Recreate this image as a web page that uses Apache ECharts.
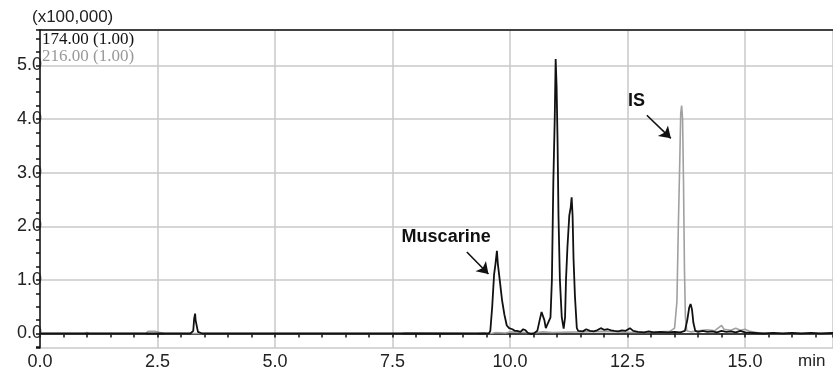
<!DOCTYPE html>
<html>
<head>
<meta charset="utf-8">
<script src="https://cdn.jsdelivr.net/npm/echarts@6/dist/echarts.min.js"></script>
<style>
  html, body { margin: 0; padding: 0; background: #fff; }
  #main { width: 833px; height: 371px; }
</style>
</head>
<body>
<div id="main"></div>
<script>
// trace 174.00 (black), time in min, intensity in x100,000
var blackTime = [0.0, 3.20, 3.26, 3.28, 3.30, 3.31, 3.33, 3.36, 3.40, 3.45, 5.00, 7.50, 9.00, 9.55, 9.58, 9.62, 9.66, 9.69, 9.71, 9.72, 9.74, 9.78, 9.83, 9.88, 9.93, 9.98,
    10.05, 10.10, 10.15, 10.22, 10.28, 10.33, 10.38, 10.45, 10.52, 10.58, 10.63, 10.67, 10.70, 10.73, 10.76, 10.80, 10.86, 10.89, 10.92, 10.95, 10.97, 10.99,
    11.01, 11.03, 11.06, 11.10, 11.14, 11.17, 11.19, 11.22, 11.26, 11.29, 11.31, 11.33, 11.35, 11.38, 11.42, 11.45, 11.55, 11.62, 11.70, 11.78, 11.85, 11.93,
    12.00, 12.08, 12.15, 12.22, 12.30, 12.38, 12.46, 12.55, 12.62, 12.72, 12.85, 12.95, 13.05, 13.20, 13.35, 13.50, 13.62, 13.72, 13.77, 13.81, 13.84, 13.87,
    13.90, 13.94, 14.00, 14.10, 14.20, 14.30, 14.40, 14.50, 14.60, 14.70, 14.80, 14.90, 15.00, 15.20, 15.40, 15.60, 15.80, 16.00, 16.20, 16.40, 16.60, 16.87];
var blackVal = [0.0, 0.0, 0.05, 0.28, 0.37, 0.25, 0.26, 0.03, 0.0, 0.0, 0.0, 0.0, 0.0, 0.0, 0.05, 0.5, 1.1, 1.3, 1.3, 1.54, 1.3, 1.0, 0.62, 0.35, 0.15, 0.1,
    0.08, 0.05, 0.05, 0.03, 0.08, 0.06, 0.01, -0.01, 0.01, 0.05, 0.25, 0.4, 0.42, 0.25, 0.1, 0.07, 0.3, 1.0, 2.8, 4.0, 5.12, 4.6,
    3.6, 2.2, 1.0, 0.3, 0.09, 0.3, 1.0, 1.6, 2.2, 2.35, 2.54, 2.2, 1.4, 0.7, 0.1, 0.05, 0.04, 0.08, 0.05, 0.04, 0.06, 0.1,
    0.07, 0.08, 0.06, 0.05, 0.04, 0.06, 0.05, 0.1, 0.05, 0.03, 0.02, 0.04, 0.02, 0.03, 0.02, 0.03, 0.02, 0.05, 0.25, 0.48, 0.55, 0.45,
    0.2, 0.05, 0.03, 0.05, 0.03, 0.04, 0.02, 0.05, 0.03, 0.04, 0.02, 0.05, 0.02, 0.01, 0.0, 0.01, 0.0, 0.01, 0.0, 0.01, 0.0, 0.01];

// trace 216.00 (gray)
var grayTime = [0.0, 0.95, 1.0, 1.05, 2.25, 2.30, 2.45, 2.55, 2.65, 7.68, 7.70, 7.78, 7.80, 9.28, 9.30, 9.45, 9.50, 9.60, 9.70, 9.90, 10.00, 10.30, 10.50, 10.70, 10.90, 11.50, 12.00, 12.30, 12.60, 12.90,
    13.20, 13.40, 13.50, 13.55, 13.58, 13.61, 13.63, 13.65, 13.67, 13.69, 13.71, 13.73, 13.76, 13.85, 14.00, 14.20, 14.35, 14.50, 14.55, 14.70, 14.80, 14.90,
    15.00, 15.10, 15.30, 15.50, 16.87];
var grayVal = [0.0, 0.0, 0.02, 0.0, 0.0, 0.04, 0.04, 0.02, 0.0, 0.0, 0.012, 0.012, 0.0, 0.0, 0.015, 0.015, 0.0, 0.0, 0.02, 0.01, 0.03, 0.02, 0.01, 0.03, 0.02, 0.03, 0.04, 0.03, 0.02, 0.02,
    0.03, 0.04, 0.1, 0.6, 2.0, 3.2, 4.1, 4.25, 4.0, 2.8, 1.2, 0.3, 0.05, 0.03, 0.05, 0.07, 0.05, 0.15, 0.08, 0.06, 0.1, 0.06,
    0.08, 0.04, 0.01, 0.0, 0.0];

var traceNames = ['174.00 (1.00)', '216.00 (1.00)'];

function zip(a, b) {
    var out = [];
    for (var i = 0; i < a.length; i++) {
        out.push([a[i], b[i]]);
    }
    return out;
}

var font = "'Liberation Sans', Arial, sans-serif";
var myChart = echarts.init(document.getElementById('main'));

var option = {
    animation: false,
    backgroundColor: '#fff',
    grid: { left: 40, right: 0, top: 30, bottom: 23 },
    graphic: [
        { type: 'text', left: 42, top: 31, style: { text: traceNames[0], fill: '#111', font: "17px 'Liberation Serif', 'Times New Roman', serif" } },
        { type: 'text', left: 42, top: 48, style: { text: traceNames[1], fill: '#999', font: "17px 'Liberation Serif', 'Times New Roman', serif" } },
        { type: 'text', left: 798, top: 353, style: { text: 'min', fill: '#222', font: '17px ' + font } }
    ],
    xAxis: [
        {
            type: 'value',
            min: 0,
            max: 16.87,
            interval: 2.5,
            axisLine: { lineStyle: { color: '#111', width: 1.5 } },
            axisTick: { length: 4, lineStyle: { color: '#111', width: 1.5 } },
            minorTick: { show: true, splitNumber: 5, length: 4, lineStyle: { color: '#111', width: 1.5 } },
            axisLabel: {
                margin: 5, color: '#222', fontSize: 18, fontFamily: font, showMaxLabel: false,
                formatter: function (v) { return v.toFixed(1); }
            },
            splitLine: { show: true, lineStyle: { color: '#c8c8c8', width: 1.5 } }
        },
        {
            type: 'value',
            position: 'top',
            min: 0,
            max: 16.87,
            axisLine: { show: true, lineStyle: { color: '#111', width: 1.5 } },
            axisTick: { show: false },
            axisLabel: { show: false },
            splitLine: { show: false }
        }
    ],
    yAxis: {
        type: 'value',
        min: -0.27,
        max: 5.66,
        splitNumber: 5,
        name: '(x100,000)',
        nameLocation: 'end',
        nameGap: 4,
        nameTextStyle: { align: 'left', padding: [0, 0, 0, -8], color: '#222', fontSize: 17, fontFamily: font },
        axisLine: { show: true, lineStyle: { color: '#111', width: 1.5 } },
        axisTick: { show: true, length: 4, lineStyle: { color: '#111', width: 1.5 } },
        minorTick: { show: true, splitNumber: 4, length: 4, lineStyle: { color: '#111', width: 1.5 } },
        axisLabel: {
            margin: -2, color: '#222', fontSize: 18, fontFamily: font,
            showMinLabel: false, showMaxLabel: false,
            formatter: function (v) { return v.toFixed(1); }
        },
        splitLine: { show: true, lineStyle: { color: '#c8c8c8', width: 1.5 } }
    },
    series: [
        {
            name: traceNames[1],
            type: 'line',
            data: zip(grayTime, grayVal),
            smooth: false,
            showSymbol: false,
            z: 2,
            lineStyle: { color: '#a0a0a0', width: 1.6 }
        },
        {
            name: traceNames[0],
            type: 'line',
            data: zip(blackTime, blackVal),
            smooth: false,
            showSymbol: false,
            z: 3,
            lineStyle: { color: '#111', width: 1.8 },
            markLine: {
                silent: true,
                symbol: ['none', 'arrow'],
                symbolSize: 11,
                lineStyle: { color: '#111', width: 1.6, type: 'solid' },
                label: { show: false },
                data: [
                    [{ coord: [9.08, 1.52] }, { coord: [9.54, 1.11] }],
                    [{ coord: [12.91, 4.07] }, { coord: [13.42, 3.64] }]
                ]
            },
            markPoint: {
                silent: true,
                symbol: 'rect',
                symbolSize: 1,
                itemStyle: { color: 'rgba(0,0,0,0)' },
                label: { show: true, position: 'inside', color: '#111', fontWeight: 'bold', fontSize: 18, fontFamily: font },
                data: [
                    { coord: [8.64, 1.80], value: 'Muscarine' },
                    { coord: [12.69, 4.33], value: 'IS' }
                ]
            }
        }
    ]
};
myChart.setOption(option);
</script>
</body>
</html>
